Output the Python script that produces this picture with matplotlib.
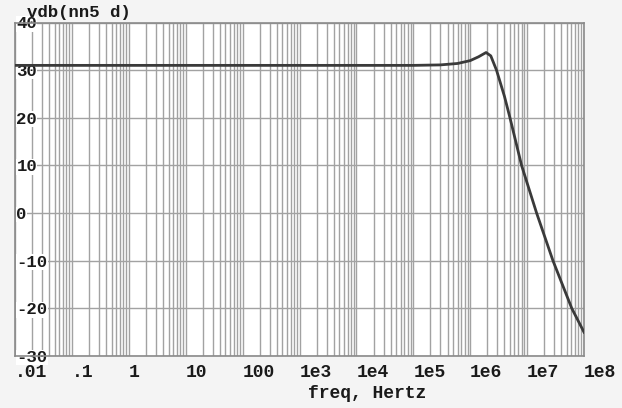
import numpy as np
import matplotlib.pyplot as plt
from matplotlib.ticker import LogLocator, NullFormatter

# values (spice nutmeg style plot)
freq = [0.01, 1e5, 3e5, 6e5, 1e6, 1.4e6, 1.9e6, 2.3e6, 2.9e6, 4e6, 5e6,
        8e6, 1.47e7, 2.85e7, 6.1e7, 1e8]
vdb = [31.0, 31.0, 31.1, 31.4, 32.0, 32.8, 33.7, 33.0, 30.0, 24.5, 20.0,
       10.0, 0.0, -10.0, -20.0, -25.0]

xticks = [0.01, 0.1, 1, 10, 100, 1e3, 1e4, 1e5, 1e6, 1e7, 1e8]
xticklabels = ['.01', '.1', '1', '10', '100', '1e3', '1e4', '1e5', '1e6', '1e7', '1e8']
yticks = [-30, -20, -10, 0, 10, 20, 30, 40]
yticklabels = ['-30', '-20', '-10', '0', '10', '20', '30', '40']

fnt = 'Liberation Mono'
grid_col = '#a2a2a2'

fig = plt.figure(figsize=(6.22, 4.08), dpi=100)
fig.patch.set_facecolor('#f4f4f4')
ax = fig.add_axes([15/622, 1-356/408, (584-15)/622, (356-22.5)/408])
ax.set_facecolor('white')

ax.plot(freq, vdb, color='#3a3a3a', lw=2.0, zorder=3)

ax.set_xscale('log')
ax.set_xlim(0.01, 1e8)
ax.set_ylim(-30, 40)

ax.set_xticks(xticks)
ax.set_xticklabels(xticklabels, fontfamily=fnt, fontweight='bold', fontsize=13)
ax.xaxis.set_minor_locator(LogLocator(base=10, subs=np.arange(2, 10), numticks=100))
ax.xaxis.set_minor_formatter(NullFormatter())
ax.set_yticks(yticks)
ax.set_yticklabels(yticklabels, fontfamily=fnt, fontweight='bold', fontsize=12.5)

ax.tick_params(axis='x', which='both', length=0, pad=6, colors='#1a1a1a')
ax.tick_params(axis='y', which='both', length=0, pad=-1, colors='#1a1a1a')
for lab in ax.get_xticklabels():
    lab.set_horizontalalignment('left')
for lab in ax.get_yticklabels():
    lab.set_horizontalalignment('left')
    lab.set_bbox(dict(facecolor='white', edgecolor='none', pad=0.3))

ax.grid(True, which='major', axis='both', color=grid_col, lw=1.0)
ax.grid(True, which='minor', axis='x', color=grid_col, lw=1.0)
ax.set_axisbelow(True)

for sp in ax.spines.values():
    sp.set_color('#8a8a8a')
    sp.set_linewidth(1.2)

fig.text(27/622, 1-13/408, 'vdb(nn5 d)', fontfamily=fnt, fontweight='bold',
         fontsize=12.5, va='center', ha='left', color='#1a1a1a')
fig.text(367/622, 1-394/408, 'freq, Hertz', fontfamily=fnt, fontweight='bold',
         fontsize=13, va='center', ha='center', color='#1a1a1a')

fig.savefig('out.png', dpi=100, facecolor=fig.get_facecolor())
